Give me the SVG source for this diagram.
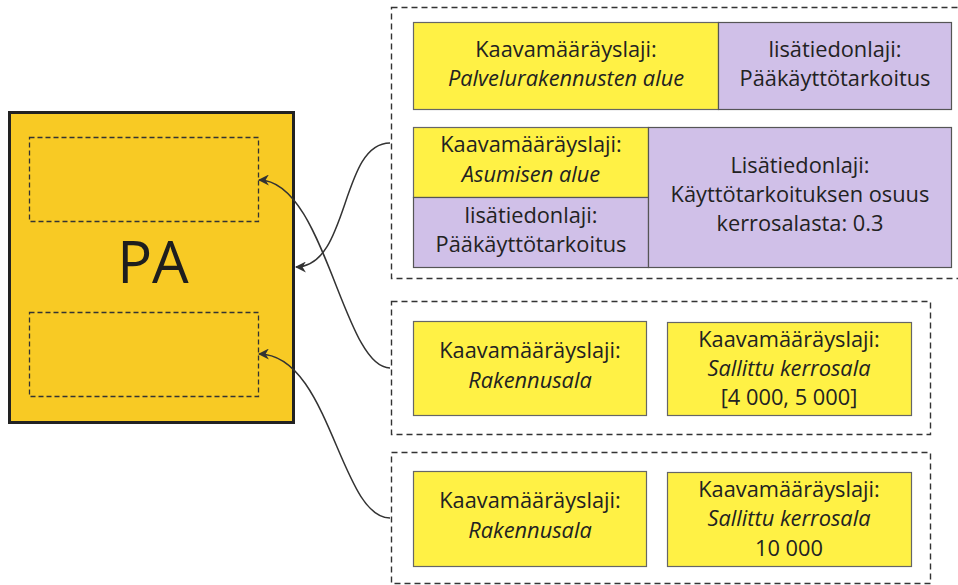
<svg xmlns="http://www.w3.org/2000/svg" width="958" height="585" viewBox="0 0 958 585">
<defs>
<style>
.t{font-family:"Open Sans","Noto Sans",sans-serif;font-size:21.8px;fill:#222;text-anchor:middle}
.i{font-style:italic}
.y{fill:#FFF145;stroke:#666;stroke-width:1.2}
.p{fill:#D0C0E8;stroke:#555;stroke-width:1.2}
.grp{fill:none;stroke:#333;stroke-width:1.4;stroke-dasharray:6 4}
.inner{fill:none;stroke:#333;stroke-width:1.3;stroke-dasharray:5 3}
.c{fill:none;stroke:#333;stroke-width:1.5}
</style>
<marker id="ah" viewBox="0 0 10 10" refX="9" refY="5" markerWidth="11" markerHeight="11" markerUnits="userSpaceOnUse" orient="auto">
<path d="M0,0 L10,5 L0,10 L3,5 z" fill="#333"/>
</marker>
</defs>
<rect width="958" height="585" fill="#fff"/>

<g id="pa">
<rect x="9.5" y="112.5" width="284" height="310" fill="#F8CA24" stroke="#222" stroke-width="3"/>
<rect x="29.5" y="137.5" width="229" height="84" class="inner"/>
<rect x="29.5" y="312.5" width="229" height="84" class="inner"/>
<text x="153" y="283" style="font-family:'Open Sans','Noto Sans',sans-serif;font-size:58px;fill:#1e1e1e;text-anchor:middle">PA</text>
</g>

<g id="group1">
<rect x="391.5" y="7.5" width="580" height="271" class="grp"/>
<g id="n1a">
<rect x="413.5" y="22.5" width="305" height="87" class="y"/>
<text class="t" x="566" y="57">Kaavamääräyslaji:</text>
<text class="t i" x="566" y="86">Palvelurakennusten alue</text>
</g>
<g id="n1b">
<rect x="718.5" y="22.5" width="233" height="87" class="p"/>
<text class="t" x="835" y="57">lisätiedonlaji:</text>
<text class="t" x="835" y="86">Pääkäyttötarkoitus</text>
</g>
<g id="n2a">
<rect x="413.5" y="127.5" width="235" height="70" class="y"/>
<text class="t" x="531" y="152">Kaavamääräyslaji:</text>
<text class="t i" x="531" y="182">Asumisen alue</text>
</g>
<g id="n2b">
<rect x="413.5" y="197.5" width="235" height="70" class="p"/>
<text class="t" x="531" y="223">lisätiedonlaji:</text>
<text class="t" x="531" y="252">Pääkäyttötarkoitus</text>
</g>
<g id="n2c">
<rect x="648.5" y="127.5" width="303" height="140" class="p"/>
<text class="t" x="800" y="173">Lisätiedonlaji:</text>
<text class="t" x="800" y="202">Käyttötarkoituksen osuus</text>
<text class="t" x="800" y="231">kerrosalasta: 0.3</text>
</g>
</g>

<g id="group2">
<rect x="391.5" y="301.5" width="539" height="133" class="grp"/>
<g id="n3a">
<rect x="413.5" y="321.5" width="233" height="94" class="y"/>
<text class="t" x="530" y="358">Kaavamääräyslaji:</text>
<text class="t i" x="530" y="388">Rakennusala</text>
</g>
<g id="n3b">
<rect x="667.5" y="322.5" width="244" height="93" class="y"/>
<text class="t" x="789" y="347">Kaavamääräyslaji:</text>
<text class="t i" x="789" y="376">Sallittu kerrosala</text>
<text class="t" x="789" y="405">[4 000, 5 000]</text>
</g>
</g>

<g id="group3">
<rect x="391.5" y="452.5" width="539" height="131" class="grp"/>
<g id="n4a">
<rect x="413.5" y="471.5" width="233" height="95" class="y"/>
<text class="t" x="530" y="508">Kaavamääräyslaji:</text>
<text class="t i" x="530" y="538">Rakennusala</text>
</g>
<g id="n4b">
<rect x="667.5" y="472.5" width="244" height="94" class="y"/>
<text class="t" x="789" y="497">Kaavamääräyslaji:</text>
<text class="t i" x="789" y="526">Sallittu kerrosala</text>
<text class="t" x="789" y="556">10 000</text>
</g>
</g>

<g id="connectors">
<path class="c" d="M390,143 C340,143 350,267 296,267" marker-end="url(#ah)"/>
<path class="c" d="M390,368 C343,368 325,180 259,180" marker-end="url(#ah)"/>
<path class="c" d="M390,518 C340,518 330,354 259,354" marker-end="url(#ah)"/>
</g>
</svg>
